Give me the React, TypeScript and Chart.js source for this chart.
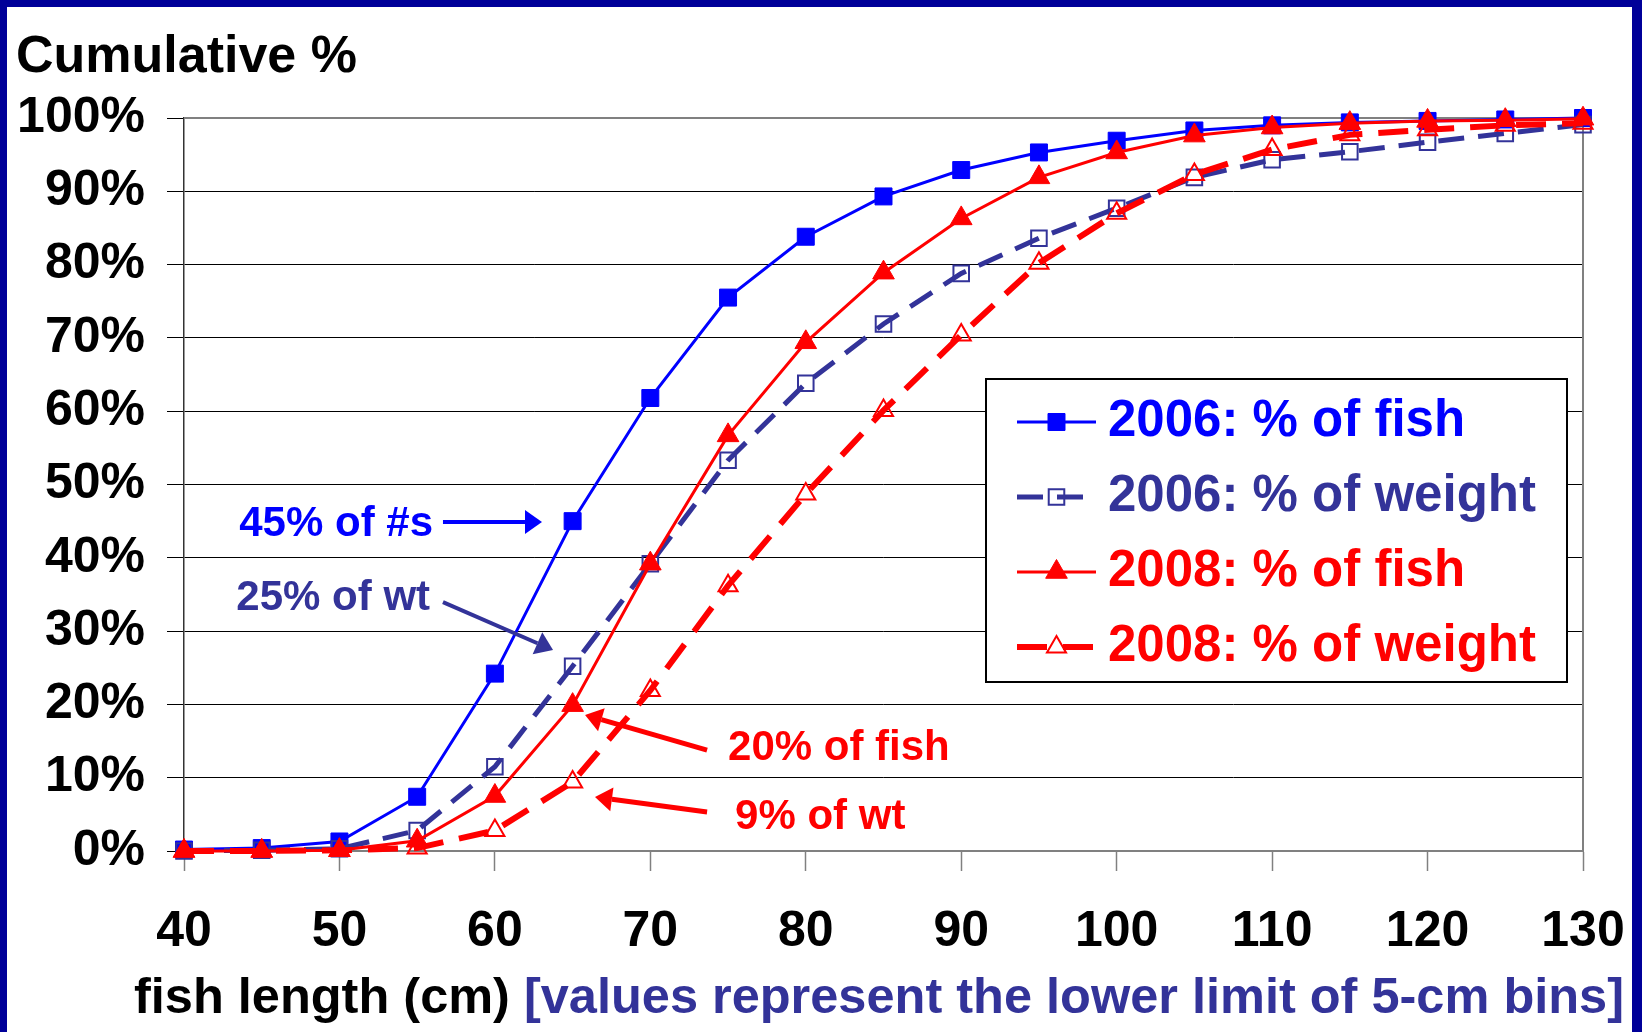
import React, { useEffect, useRef } from 'react';
import { Chart, registerables } from 'chart.js';

Chart.register(...registerables);

// ---------- data ----------
const lengths = [40, 45, 50, 55, 60, 65, 70, 75, 80, 85, 90, 95, 100, 105, 110, 115, 120, 125, 130];
const fish2006 = [0.2, 0.4, 1.3, 7.4, 24.2, 45.0, 61.8, 75.5, 83.8, 89.3, 92.9, 95.3, 96.9, 98.3, 99.0, 99.4, 99.6, 99.8, 100];
const weight2006 = [0.0, 0.1, 0.3, 2.8, 11.5, 25.2, 39.2, 53.3, 63.8, 71.9, 78.8, 83.6, 87.7, 91.9, 94.3, 95.4, 96.7, 97.9, 99.1];
const fish2008 = [0.0, 0.0, 0.1, 1.4, 7.5, 19.9, 39.2, 56.7, 69.4, 78.9, 86.3, 91.9, 95.3, 97.6, 98.7, 99.3, 99.6, 99.7, 99.9];
const weight2008 = [0.0, 0.0, 0.1, 0.4, 2.8, 9.4, 21.9, 36.2, 48.7, 60.1, 70.4, 80.2, 87.0, 92.3, 95.7, 97.7, 98.4, 99.0, 99.3];

const seriesLabels = ['2006: % of fish', '2006: % of weight', '2008: % of fish', '2008: % of weight'];
const seriesColors = ['#0000FF', '#333399', '#FF0000', '#FF0000'];

const yAxisTitle = 'Cumulative %';
const xAxisTitleMain = 'fish length (cm) ';
const xAxisTitleNote = '[values represent the lower limit of 5-cm bins]';

// annotation labels (data coordinates)
const noteTexts = ['45% of #s', '25% of wt', '20% of fish', '9% of wt'];
const noteX = [56.02, 55.83, 75.0, 75.45];
const noteY = [44.6, 34.5, 14.05, 4.64];
const noteAlign = ['right', 'right', 'left', 'left'];
const noteColors = ['#0000FF', '#333399', '#FF0000', '#FF0000'];
// arrows (data coordinates: from -> to)
const arrowFromX = [56.66, 56.66, 73.65, 73.65];
const arrowFromY = [44.87, 33.96, 13.77, 5.32];
const arrowToX = [63.03, 63.74, 65.8, 66.44];
const arrowToY = [44.87, 27.41, 18.55, 7.36];

const FONT = '"Liberation Sans", Arial, Helvetica, sans-serif';

const toXY = (vals: number[]) => lengths.map((x, i) => ({ x, y: vals[i] }));

function drawMarker(ctx: CanvasRenderingContext2D, style: string, x: number, y: number, r: number,
  fill: string, stroke: string, lw: number) {
  ctx.beginPath();
  if (style === 'rect') {
    const s = r * Math.SQRT1_2;
    ctx.rect(x - s, y - s, 2 * s, 2 * s);
  } else {
    let rad = 0;
    ctx.moveTo(x + Math.sin(rad) * r, y - Math.cos(rad) * r);
    rad += (2 * Math.PI) / 3;
    ctx.lineTo(x + Math.sin(rad) * r, y - Math.cos(rad) * r);
    rad += (2 * Math.PI) / 3;
    ctx.lineTo(x + Math.sin(rad) * r, y - Math.cos(rad) * r);
    ctx.closePath();
  }
  if (fill && fill !== 'transparent') {
    ctx.fillStyle = fill;
    ctx.fill();
  }
  ctx.strokeStyle = stroke;
  ctx.lineWidth = lw;
  ctx.stroke();
}

function drawArrow(ctx: CanvasRenderingContext2D, x0: number, y0: number, x1: number, y1: number,
  color: string, lw: number, headLen: number, headW: number) {
  const ang = Math.atan2(y1 - y0, x1 - x0);
  const bx = x1 - Math.cos(ang) * headLen;
  const by = y1 - Math.sin(ang) * headLen;
  ctx.save();
  ctx.strokeStyle = color;
  ctx.fillStyle = color;
  ctx.lineWidth = lw;
  ctx.lineCap = 'butt';
  ctx.beginPath();
  ctx.moveTo(x0, y0);
  ctx.lineTo(bx, by);
  ctx.stroke();
  const px = -Math.sin(ang) * headW / 2;
  const py = Math.cos(ang) * headW / 2;
  ctx.beginPath();
  ctx.moveTo(x1, y1);
  ctx.lineTo(bx + px, by + py);
  ctx.lineTo(bx - px, by - py);
  ctx.closePath();
  ctx.fill();
  ctx.restore();
}

const decorPlugin = {
  id: 'decor',
  beforeDraw(chart: any) {
    const { ctx, width, height } = chart;
    ctx.save();
    ctx.fillStyle = '#ffffff';
    ctx.fillRect(0, 0, width, height);
    ctx.restore();
  },
  beforeDatasetsDraw(chart: any) {
    const { ctx, chartArea } = chart;
    ctx.save();
    ctx.strokeStyle = '#808080';
    ctx.lineWidth = 2;
    ctx.beginPath();
    ctx.moveTo(chartArea.left, chartArea.top);
    ctx.lineTo(chartArea.right, chartArea.top);
    ctx.lineTo(chartArea.right, chartArea.bottom);
    ctx.stroke();
    ctx.restore();
  },
  afterDraw(chart: any) {
    const { ctx } = chart;
    const xs = chart.scales.x;
    const ys = chart.scales.y;

    // annotations
    ctx.save();
    for (let i = 0; i < noteTexts.length; i++) {
      const w = i < 2 ? 4 : 5;
      drawArrow(ctx, xs.getPixelForValue(arrowFromX[i]), ys.getPixelForValue(arrowFromY[i]),
        xs.getPixelForValue(arrowToX[i]), ys.getPixelForValue(arrowToY[i]), noteColors[i], w, 17, 24);
      ctx.font = `bold 42px ${FONT}`;
      ctx.fillStyle = noteColors[i];
      ctx.textBaseline = 'middle';
      ctx.textAlign = noteAlign[i] as CanvasTextAlign;
      ctx.fillText(noteTexts[i], xs.getPixelForValue(noteX[i]), ys.getPixelForValue(noteY[i]));
    }
    ctx.restore();

    // legend
    const L = { x: 986, y: 379, w: 581, h: 303, row0: 422, gap: 75, l0: 1017, l1: 1096, tx: 1108 };
    ctx.save();
    ctx.fillStyle = '#ffffff';
    ctx.fillRect(L.x, L.y, L.w, L.h);
    ctx.strokeStyle = '#000000';
    ctx.lineWidth = 2;
    ctx.strokeRect(L.x, L.y, L.w, L.h);
    chart.data.datasets.forEach((ds: any, i: number) => {
      const cy = L.row0 + i * L.gap;
      ctx.save();
      ctx.strokeStyle = ds.borderColor;
      ctx.lineWidth = ds.borderWidth;
      ctx.setLineDash(ds.borderDash || []);
      ctx.beginPath();
      ctx.moveTo(L.l0, cy);
      ctx.lineTo(L.l1, cy);
      ctx.stroke();
      ctx.setLineDash([]);
      drawMarker(ctx, ds.pointStyle, (L.l0 + L.l1) / 2, cy, ds.pointRadius,
        ds.pointBackgroundColor, ds.pointBorderColor, ds.pointBorderWidth);
      ctx.restore();
      ctx.font = `bold 51px ${FONT}`;
      ctx.fillStyle = seriesColors[i];
      ctx.textAlign = 'left';
      ctx.textBaseline = 'middle';
      ctx.fillText(ds.label, L.tx, cy);
    });
    ctx.restore();

    // axis titles
    ctx.save();
    ctx.textBaseline = 'alphabetic';
    ctx.textAlign = 'left';
    ctx.font = `bold 52px ${FONT}`;
    ctx.fillStyle = '#000000';
    ctx.fillText(yAxisTitle, 16, 72);
    ctx.font = `bold 50px ${FONT}`;
    const wMain = ctx.measureText(xAxisTitleMain).width;
    const wNote = ctx.measureText(xAxisTitleNote).width;
    const target = 1491;
    const scale = target / (wMain + wNote);
    ctx.font = `bold ${(50 * scale).toFixed(1)}px ${FONT}`;
    const wMain2 = ctx.measureText(xAxisTitleMain).width;
    ctx.fillStyle = '#000000';
    ctx.fillText(xAxisTitleMain, 134, 1013);
    ctx.fillStyle = '#333399';
    ctx.fillText(xAxisTitleNote, 134 + wMain2, 1013);
    ctx.restore();
  },
};

export default function App() {
  const ref = useRef<HTMLCanvasElement>(null);

  useEffect(() => {
    const canvas = ref.current;
    if (!canvas) return;
    const chart = new Chart(canvas, {
      type: 'line',
      data: {
        datasets: [
          {
            label: seriesLabels[0],
            data: toXY(fish2006),
            borderColor: seriesColors[0],
            backgroundColor: seriesColors[0],
            borderWidth: 3,
            pointStyle: 'rect',
            pointRadius: 12,
            pointBackgroundColor: seriesColors[0],
            pointBorderColor: seriesColors[0],
            pointBorderWidth: 1,
            tension: 0,
            order: 4,
            clip: false,
          } as any,
          {
            label: seriesLabels[1],
            data: toXY(weight2006),
            borderColor: seriesColors[1],
            backgroundColor: seriesColors[1],
            borderWidth: 5,
            borderDash: [26, 14],
            pointStyle: 'rect',
            pointRadius: 11,
            pointBackgroundColor: 'transparent',
            pointBorderColor: seriesColors[1],
            pointBorderWidth: 2,
            tension: 0,
            order: 3,
            clip: false,
          } as any,
          {
            label: seriesLabels[2],
            data: toXY(fish2008),
            borderColor: seriesColors[2],
            backgroundColor: seriesColors[2],
            borderWidth: 3,
            pointStyle: 'triangle',
            pointRadius: 12.5,
            pointBackgroundColor: seriesColors[2],
            pointBorderColor: seriesColors[2],
            pointBorderWidth: 1,
            tension: 0,
            order: 2,
            clip: false,
          } as any,
          {
            label: seriesLabels[3],
            data: toXY(weight2008),
            borderColor: seriesColors[3],
            backgroundColor: seriesColors[3],
            borderWidth: 6,
            borderDash: [30, 16],
            pointStyle: 'triangle',
            pointRadius: 11,
            pointBackgroundColor: 'transparent',
            pointBorderColor: seriesColors[3],
            pointBorderWidth: 2,
            tension: 0,
            order: 1,
            clip: false,
          } as any,
        ],
      },
      options: {
        responsive: false,
        maintainAspectRatio: false,
        devicePixelRatio: 1,
        animation: false,
        events: [],
        layout: { padding: { top: 118, right: 59, left: 0, bottom: 0 } },
        plugins: {
          legend: { display: false },
          tooltip: { enabled: false },
          title: { display: false },
        },
        scales: {
          x: {
            type: 'linear',
            min: 40,
            max: 130,
            afterFit: (s: any) => { s.height = 181; s.paddingLeft = 0; s.paddingRight = 0; },
            ticks: {
              stepSize: 10,
              padding: 31,
              color: '#000000',
              font: { family: FONT, size: 50, weight: 'bold' },
              maxRotation: 0,
              autoSkip: false,
            },
            grid: {
              drawOnChartArea: false,
              drawTicks: true,
              tickLength: 20,
              tickColor: '#808080',
              tickWidth: 1.5,
            },
            border: { display: true, color: '#808080', width: 2 },
          },
          y: {
            type: 'linear',
            min: 0,
            max: 100,
            afterFit: (s: any) => { s.width = 184; s.paddingTop = 0; s.paddingBottom = 0; },
            ticks: {
              stepSize: 10,
              padding: 22,
              color: '#000000',
              font: { family: FONT, size: 50, weight: 'bold' },
              callback: (v: any) => `${v}%`,
            },
            grid: {
              color: (c: any) => (c.tick && (c.tick.value === 0 || c.tick.value === 100) ? 'rgba(0,0,0,0)' : '#000000'),
              lineWidth: 1,
              drawTicks: true,
              tickLength: 17,
              tickColor: '#000000',
              tickWidth: 1,
            },
            border: { display: true, color: '#333333', width: 1.5 },
          },
        },
      } as any,
      plugins: [decorPlugin],
    });
    return () => chart.destroy();
  }, []);

  return (
    <div style={{ position: 'fixed', left: 0, top: 0, width: 1642, height: 1032, background: '#ffffff', overflow: 'hidden' }}>
      <canvas ref={ref} width={1642} height={1032} style={{ display: 'block', width: 1642, height: 1032 }} />
      <div
        style={{
          position: 'absolute', left: 0, top: 0, width: 1642, height: 1032, boxSizing: 'border-box',
          borderLeft: '7px solid #000099', borderTop: '7px solid #000099', borderRight: '10px solid #000099',
          pointerEvents: 'none',
        }}
      />
    </div>
  );
}
